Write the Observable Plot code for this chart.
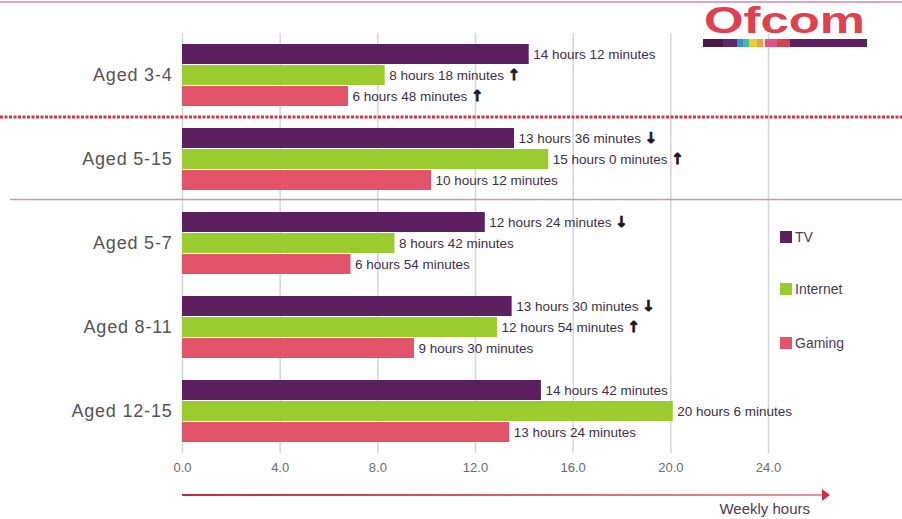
<!DOCTYPE html>
<html>
<head>
<meta charset="utf-8">
<script src="https://cdn.jsdelivr.net/npm/d3@7"></script>
<script src="https://cdn.jsdelivr.net/npm/@observablehq/plot@0.6"></script>
<style>
  html, body { margin: 0; padding: 0; background: #fff; }
  #chart { width: 902px; height: 519px; }
</style>
</head>
<body>
<div id="chart"></div>
<script>
// Weekly hours spent on each medium, by age group (hours as decimals)
const groups = ["Aged 3-4", "Aged 5-15", "Aged 5-7", "Aged 8-11", "Aged 12-15"];
const media = ["TV", "Internet", "Gaming"];
const tvHours = [14.2, 13.6, 12.4, 13.5, 14.7];
const internetHours = [8.3, 15.0, 8.7, 12.9, 20.1];
const gamingHours = [6.8, 10.2, 6.9, 9.5, 13.4];
// Change since the previous year: "↑" rise, "↓" fall, "" no significant change
const tvChange = ["", "↓", "↓", "↓", ""];
const internetChange = ["↑", "↑", "", "↑", ""];
const gamingChange = ["↑", "", "", "", ""];
const xTicks = [0, 4, 8, 12, 16, 20, 24];
const mediaColors = ["#5c1f60", "#9bcc2f", "#e3536a"];

const fmtDuration = h => {
  const total = Math.round(h * 60);
  return `${Math.floor(total / 60)} hours ${total % 60} minutes`;
};

const rows = [];
groups.forEach((g, i) => {
  [[tvHours, tvChange], [internetHours, internetChange], [gamingHours, gamingChange]]
    .forEach(([vals, chg], j) => {
      rows.push({group: g, medium: media[j], hours: vals[i], change: chg[i],
                 label: fmtDuration(vals[i]) + (chg[i] ? " " + chg[i] : "")});
    });
});

const W = 902, H = 519;
const mL = 182, mR = 134, mT = 33, mB = 66;

const chart = Plot.plot({
  width: W, height: H,
  marginLeft: mL, marginRight: mR, marginTop: mT, marginBottom: mB,
  style: {fontFamily: "'Liberation Sans', Arial, sans-serif", fontSize: "13px", color: "#6a6a6a", background: "#fff"},
  x: {domain: [0, 24], ticks: xTicks, tickFormat: d3.format(".1f"), tickSize: 0, tickPadding: 9, label: null},
  y: {domain: media, paddingInner: 0.05, paddingOuter: 0.525, axis: null},
  fy: {domain: groups, padding: 0, axis: null},
  color: {domain: media, range: mediaColors},
  marks: [
    Plot.ruleX(xTicks, {stroke: "#d6d6d6", strokeWidth: 1.5}),
    Plot.barX(rows, {fy: "group", y: "medium", x: "hours", fill: "medium"}),
    Plot.text(rows, {fy: "group", y: "medium", x: "hours", text: "label", textAnchor: "start",
                     dx: 4, fill: "#3e2f47", fontSize: 13.5, ariaDescription: "value label"}),
    Plot.text(groups, {fy: d => d, text: d => d, frameAnchor: "left", textAnchor: "end",
                       dx: -10, fill: "#555", fontSize: 18, ariaDescription: "group label"})
  ]
});
document.getElementById("chart").appendChild(chart);

const svg = d3.select(chart);
svg.selectAll('g[aria-description="group label"] text').style("letter-spacing", "0.8px");

// Heavy change arrows inside the value labels
svg.selectAll('g[aria-description="value label"] text').each(function() {
  const t = d3.select(this);
  const s = t.text();
  const m = s.match(/^(.*?)( ?)([↑↓])$/);
  if (!m) return;
  t.text(null);
  t.append("tspan").text(m[1] + m[2]);
  t.append("tspan").attr("font-family", "'DejaVu Sans', sans-serif").attr("font-weight", "bold")
    .attr("fill", "#1e1622").attr("stroke", "#1e1622").attr("stroke-width", 0.8)
    .attr("font-size", 15).text(m[3]);
});

const fyBand = d3.scaleBand(groups, [mT, H - mB]).padding(0);
const xLin = d3.scaleLinear([0, 24], [mL, W - mR]);

// Separators: dotted line after the youngest group, solid line before the 5-15 breakdown
svg.append("line")
  .attr("x1", 0).attr("x2", W)
  .attr("y1", fyBand(groups[1])).attr("y2", fyBand(groups[1]))
  .attr("stroke", "#d6344a").attr("stroke-width", 3).attr("stroke-dasharray", "3 1.5");
svg.append("line")
  .attr("x1", 10).attr("x2", W)
  .attr("y1", fyBand(groups[2]) - 1.5).attr("y2", fyBand(groups[2]) - 1.5)
  .attr("stroke", "#c99aae").attr("stroke-width", 1.5);

// Top rule
svg.append("line").attr("x1", 0).attr("x2", W).attr("y1", 2).attr("y2", 2)
  .attr("stroke", "#d9a6d4").attr("stroke-width", 2);

// Legend
const legend = svg.append("g").attr("transform", "translate(780,0)");
[237, 289, 343].forEach((yy, i) => {
  legend.append("rect").attr("x", 0).attr("y", yy - 6).attr("width", 12).attr("height", 12)
    .attr("fill", mediaColors[i]);
  legend.append("text").attr("x", 15).attr("y", yy).attr("dy", "0.35em").attr("text-anchor", "start")
    .attr("font-size", 14).attr("fill", "#4a3c52").text(media[i]);
});

// Axis arrow with caption
const defs = svg.append("defs");
const grad = defs.append("linearGradient").attr("id", "axisGrad").attr("x1", "0%").attr("x2", "100%");
grad.append("stop").attr("offset", "0%").attr("stop-color", "#c42840");
grad.append("stop").attr("offset", "100%").attr("stop-color", "#e8909f");
const ay = 495, ax0 = xLin(0), ax1 = W - 80;
svg.append("rect").attr("x", ax0).attr("y", ay - 1).attr("width", ax1 - ax0).attr("height", 2)
  .attr("fill", "url(#axisGrad)");
svg.append("path").attr("d", `M${ax1},${ay - 6}L${ax1 + 8},${ay}L${ax1},${ay + 6}Z`).attr("fill", "#cc3048");
svg.append("text").attr("x", 810).attr("y", 514).attr("text-anchor", "end")
  .attr("font-size", 15).attr("fill", "#4a3c52").text("Weekly hours");

// Ofcom logo
const logo = svg.append("g");
logo.append("text").attr("x", 704).attr("y", 33).attr("text-anchor", "start")
  .attr("font-size", 36).attr("font-weight", "bold").attr("fill", "#e0404f")
  .attr("textLength", 161).attr("lengthAdjust", "spacingAndGlyphs").text("Ofcom");
const stripe = [
  [703, 723, "#4b1a42"], [723, 737, "#5a2a70"], [737, 743, "#2f8fd0"], [743, 749, "#4fb8a2"],
  [749, 757, "#e6cf35"], [757, 763, "#f0a040"], [763, 765, "#f3e3e8"], [765, 777, "#e2508a"],
  [777, 790, "#d34452"], [790, 867, "#5a2262"]
];
stripe.forEach(([a, b, c]) => {
  logo.append("rect").attr("x", a).attr("y", 39).attr("width", b - a).attr("height", 8).attr("fill", c);
});
</script>
</body>
</html>
